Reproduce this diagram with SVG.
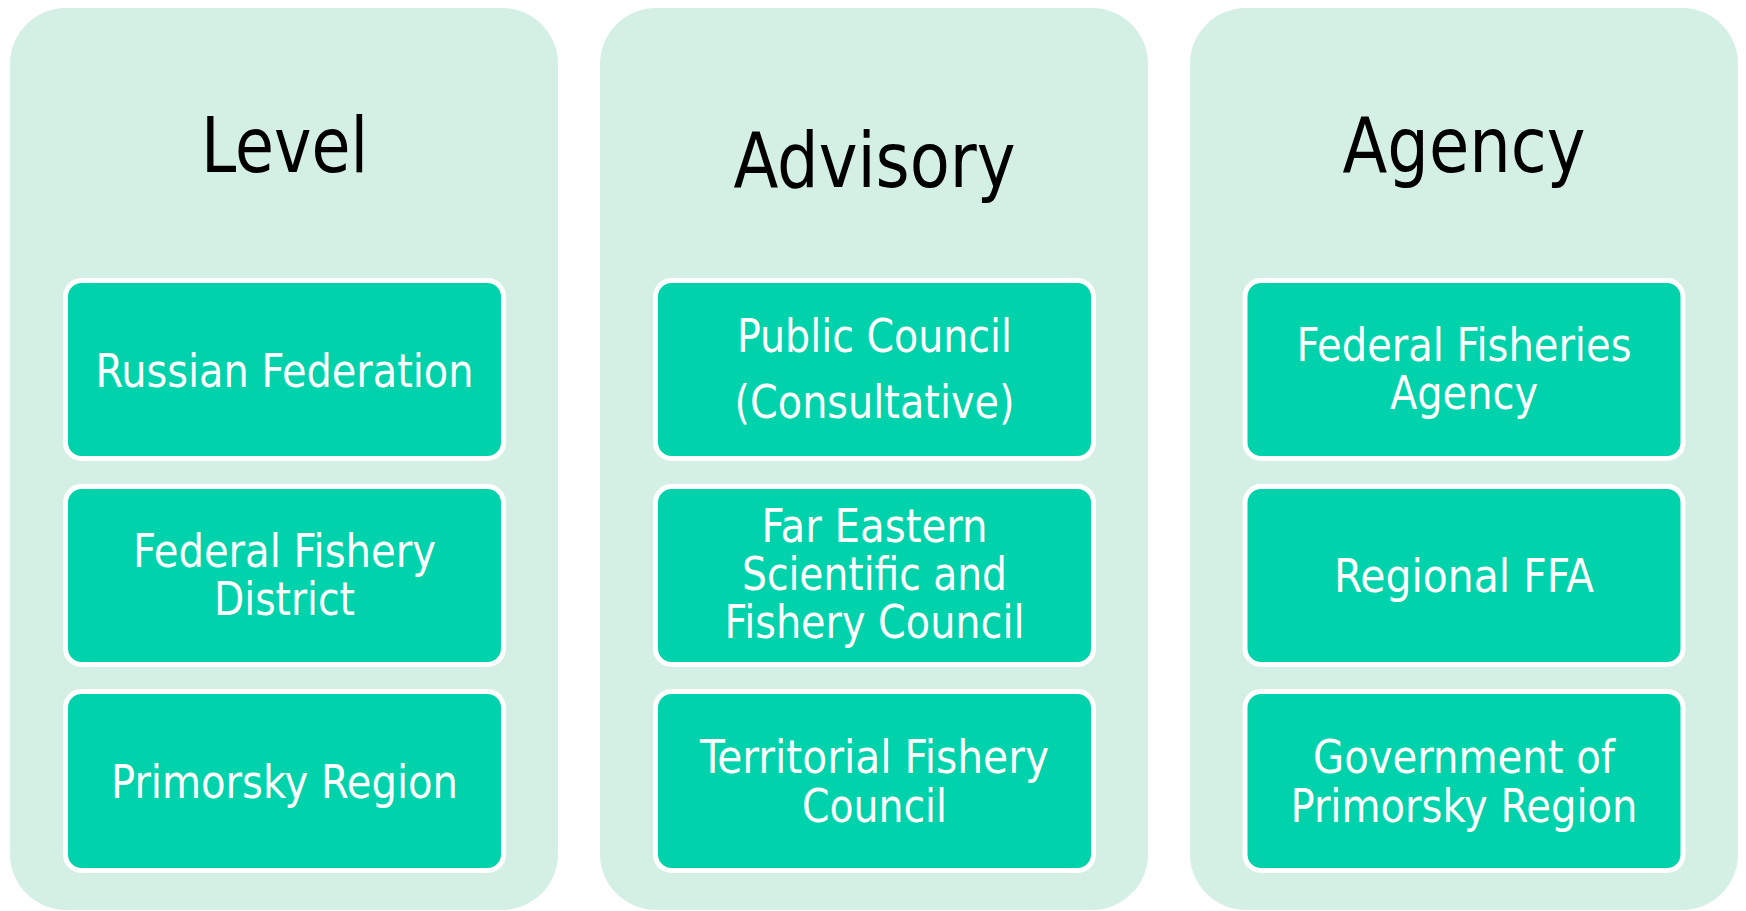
<svg xmlns="http://www.w3.org/2000/svg" width="1746" height="911" viewBox="0 0 1746 911">
  <style>
    .panel { fill: #D4EFE4; }
    .box { fill: #00D3AC; stroke: #FFFFFF; stroke-width: 5; }
    .title { font-family: "DejaVu Sans Condensed", "DejaVu Sans", sans-serif; font-stretch: condensed; font-size: 77px; fill: #000000; text-anchor: middle; }
    .label { font-family: "DejaVu Sans Condensed", "DejaVu Sans", sans-serif; font-stretch: condensed; font-size: 47px; fill: #FFFFFF; text-anchor: middle; }
  </style>
  <rect width="1746" height="911" fill="#FFFFFF"/>

  <g id="col-level">
    <rect class="panel" x="10" y="8" width="548" height="902" rx="56" ry="56"/>
    <text class="title" x="284.5" y="171.5" textLength="167" lengthAdjust="spacingAndGlyphs">Level</text>
    <g id="node-russian-federation">
      <rect class="box" x="65.5" y="280.5" width="438" height="178" rx="16" ry="16"/>
      <text class="label" x="284.5" y="386.7" textLength="378" lengthAdjust="spacingAndGlyphs">Russian Federation</text>
    </g>
    <g id="node-federal-fishery-district">
      <rect class="box" x="65.5" y="486.5" width="438" height="178" rx="16" ry="16"/>
      <text class="label" x="284.5" y="567.3" textLength="303" lengthAdjust="spacingAndGlyphs">Federal Fishery</text>
      <text class="label" x="284.5" y="615" textLength="141" lengthAdjust="spacingAndGlyphs">District</text>
    </g>
    <g id="node-primorsky-region">
      <rect class="box" x="65.5" y="691.5" width="438" height="179" rx="16" ry="16"/>
      <text class="label" x="284.5" y="797.7" textLength="347" lengthAdjust="spacingAndGlyphs">Primorsky Region</text>
    </g>
  </g>

  <g id="col-advisory">
    <rect class="panel" x="600" y="8" width="548" height="902" rx="56" ry="56"/>
    <text class="title" x="874.5" y="186.7" textLength="282" lengthAdjust="spacingAndGlyphs">Advisory</text>
    <g id="node-public-council">
      <rect class="box" x="655.5" y="280.5" width="438" height="178" rx="16" ry="16"/>
      <text class="label" x="874.5" y="352.3" textLength="275" lengthAdjust="spacingAndGlyphs">Public Council</text>
      <text class="label" x="874.5" y="417.7" textLength="280" lengthAdjust="spacingAndGlyphs">(Consultative)</text>
    </g>
    <g id="node-far-eastern-council">
      <rect class="box" x="655.5" y="486.5" width="438" height="178" rx="16" ry="16"/>
      <text class="label" x="874.5" y="541.7" textLength="226" lengthAdjust="spacingAndGlyphs">Far Eastern</text>
      <text class="label" x="874.5" y="590" textLength="265" lengthAdjust="spacingAndGlyphs">Scientific and</text>
      <text class="label" x="874.5" y="638.3" textLength="300" lengthAdjust="spacingAndGlyphs">Fishery Council</text>
    </g>
    <g id="node-territorial-fishery-council">
      <rect class="box" x="655.5" y="691.5" width="438" height="179" rx="16" ry="16"/>
      <text class="label" x="874.5" y="773.3" textLength="349" lengthAdjust="spacingAndGlyphs">Territorial Fishery</text>
      <text class="label" x="874.5" y="821.7" textLength="145" lengthAdjust="spacingAndGlyphs">Council</text>
    </g>
  </g>

  <g id="col-agency">
    <rect class="panel" x="1190" y="8" width="548" height="902" rx="56" ry="56"/>
    <text class="title" x="1464" y="171.7" textLength="243" lengthAdjust="spacingAndGlyphs">Agency</text>
    <g id="node-federal-fisheries-agency">
      <rect class="box" x="1245" y="280.5" width="438" height="178" rx="16" ry="16"/>
      <text class="label" x="1464" y="361" textLength="335" lengthAdjust="spacingAndGlyphs">Federal Fisheries</text>
      <text class="label" x="1464" y="409" textLength="148" lengthAdjust="spacingAndGlyphs">Agency</text>
    </g>
    <g id="node-regional-ffa">
      <rect class="box" x="1245" y="486.5" width="438" height="178" rx="16" ry="16"/>
      <text class="label" x="1464" y="591.7" textLength="260" lengthAdjust="spacingAndGlyphs">Regional FFA</text>
    </g>
    <g id="node-government-primorsky">
      <rect class="box" x="1245" y="691.5" width="438" height="179" rx="16" ry="16"/>
      <text class="label" x="1464" y="773.3" textLength="302" lengthAdjust="spacingAndGlyphs">Government of</text>
      <text class="label" x="1464" y="821.7" textLength="347" lengthAdjust="spacingAndGlyphs">Primorsky Region</text>
    </g>
  </g>

  <g id="connectors"/>
</svg>
